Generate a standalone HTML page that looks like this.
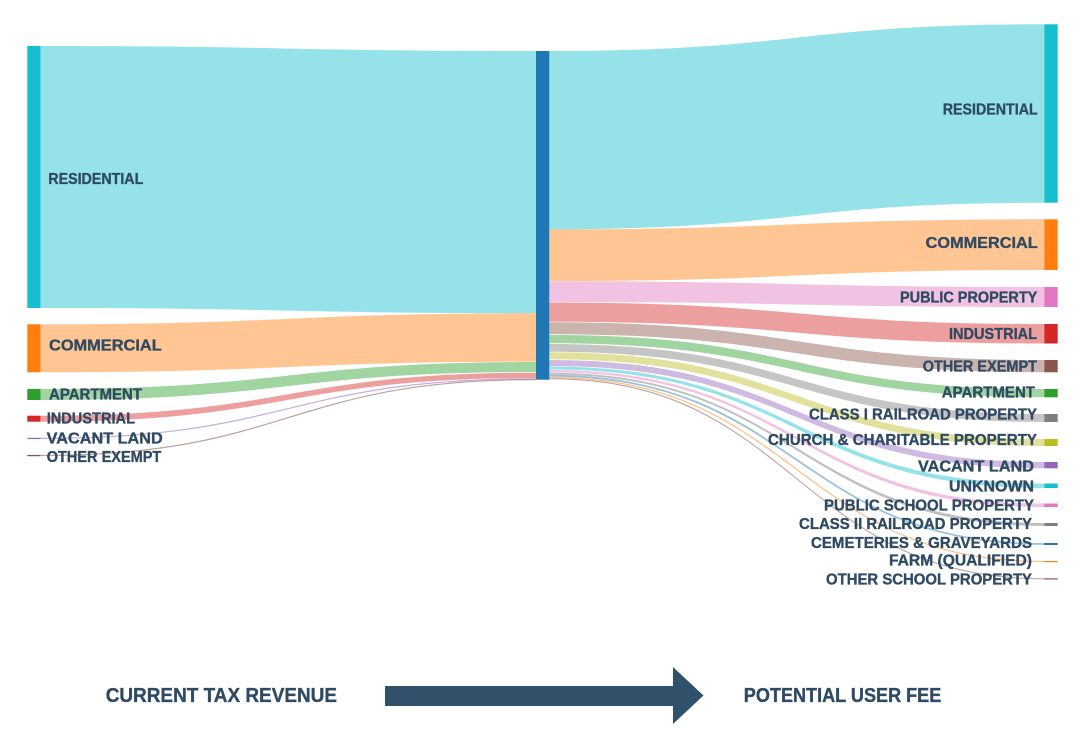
<!DOCTYPE html>
<html>
<head>
<meta charset="utf-8">
<style>
  html,body{margin:0;padding:0;background:#fff;}
  svg{display:block;}
  text{font-family:"Liberation Sans",Arial,sans-serif;font-weight:bold;fill:#2f4a63;stroke:#2f4a63;stroke-width:0.35px;}
</style>
</head>
<body>
<svg width="1091" height="742" viewBox="0 0 1091 742" xmlns="http://www.w3.org/2000/svg">
  <rect width="1091" height="742" fill="#fff"/>

  <!-- LEFT LINKS (x 41 -> 536) -->
  <g>
    <path d="M41 46 C288.5 46 288.5 51 536 51 L536 313.3 C288.5 313.3 288.5 308 41 308 Z" fill="#17becf" fill-opacity="0.45"/>
    <path d="M41 324.3 C288.5 324.3 288.5 313.3 536 313.3 L536 361.7 C288.5 361.7 288.5 372.3 41 372.3 Z" fill="#ff7f0e" fill-opacity="0.45"/>
    <path d="M41 389 C288.5 389 288.5 362 536 362 L536 372 C288.5 372 288.5 400 41 400 Z" fill="#2ca02c" fill-opacity="0.45"/>
    <path d="M41 415.7 C288.5 415.7 288.5 372.7 536 372.7 L536 378 C288.5 378 288.5 421.7 41 421.7 Z" fill="#d62728" fill-opacity="0.45"/>
    <path d="M41 438.4 C288.5 438.4 288.5 378.7 536 378.7" fill="none" stroke="#9467bd" stroke-opacity="0.55" stroke-width="1.2"/>
    <path d="M41 455.5 C288.5 455.5 288.5 379.6 536 379.6" fill="none" stroke="#8c564b" stroke-opacity="0.55" stroke-width="1.2"/>
  </g>

  <!-- RIGHT LINKS (x 549.3 -> 1044.3) -->
  <g>
    <path d="M549.3 51 C796.8 51 796.8 24.3 1044.3 24.3 L1044.3 202.7 C796.8 202.7 796.8 229.3 549.3 229.3 Z" fill="#17becf" fill-opacity="0.45"/>
    <path d="M549.3 229.3 C796.8 229.3 796.8 219.3 1044.3 219.3 L1044.3 270 C796.8 270 796.8 281 549.3 281 Z" fill="#ff7f0e" fill-opacity="0.45"/>
    <path d="M549.3 281.3 C796.8 281.3 796.8 287 1044.3 287 L1044.3 307 C796.8 307 796.8 302 549.3 302 Z" fill="#e377c2" fill-opacity="0.45"/>
    <path d="M549.3 302.5 C796.8 302.5 796.8 324 1044.3 324 L1044.3 343.5 C796.8 343.5 796.8 321.7 549.3 321.7 Z" fill="#d62728" fill-opacity="0.45"/>
    <path d="M549.3 322.2 C796.8 322.2 796.8 360 1044.3 360 L1044.3 372.3 C796.8 372.3 796.8 334.2 549.3 334.2 Z" fill="#8c564b" fill-opacity="0.45"/>
    <path d="M549.3 335 C796.8 335 796.8 389 1044.3 389 L1044.3 397.3 C796.8 397.3 796.8 343.3 549.3 343.3 Z" fill="#2ca02c" fill-opacity="0.45"/>
    <path d="M549.3 344 C796.8 344 796.8 414 1044.3 414 L1044.3 422 C796.8 422 796.8 351.7 549.3 351.7 Z" fill="#7f7f7f" fill-opacity="0.45"/>
    <path d="M549.3 352.3 C796.8 352.3 796.8 439 1044.3 439 L1044.3 446 C796.8 446 796.8 359.3 549.3 359.3 Z" fill="#bcbd22" fill-opacity="0.45"/>
    <path d="M549.3 360 C796.8 360 796.8 462 1044.3 462 L1044.3 468.3 C796.8 468.3 796.8 366 549.3 366 Z" fill="#9467bd" fill-opacity="0.45"/>
    <path d="M549.3 366.5 C796.8 366.5 796.8 483.5 1044.3 483.5 L1044.3 488 C796.8 488 796.8 369.5 549.3 369.5 Z" fill="#17becf" fill-opacity="0.45"/>
    <path d="M549.3 370 C796.8 370 796.8 503.5 1044.3 503.5 L1044.3 507 C796.8 507 796.8 372.3 549.3 372.3 Z" fill="#e377c2" fill-opacity="0.45"/>
    <path d="M549.3 372.8 C796.8 372.8 796.8 523 1044.3 523 L1044.3 526 C796.8 526 796.8 374.6 549.3 374.6 Z" fill="#7f7f7f" fill-opacity="0.5"/>
    <path d="M549.3 375.7 C796.8 375.7 796.8 544 1044.3 544" fill="none" stroke="#1f77b4" stroke-opacity="0.45" stroke-width="1.8"/>
    <path d="M549.3 377.4 C796.8 377.4 796.8 561.5 1044.3 561.5" fill="none" stroke="#ff7f0e" stroke-opacity="0.55" stroke-width="1.1"/>
    <path d="M549.3 378.7 C796.8 378.7 796.8 578.8 1044.3 578.8" fill="none" stroke="#8c564b" stroke-opacity="0.55" stroke-width="1.1"/>
  </g>

  <!-- LEFT NODES -->
  <rect x="27.3" y="46" width="13.4" height="262" fill="#17becf"/>
  <rect x="27.3" y="324.3" width="13.4" height="48" fill="#ff7f0e"/>
  <rect x="27.3" y="389" width="13.4" height="11" fill="#2ca02c"/>
  <rect x="27.3" y="415.7" width="13.4" height="6" fill="#d62728"/>
  <rect x="27.3" y="437.8" width="13.4" height="1.3" fill="#9467bd"/>
  <rect x="27.3" y="454.9" width="13.4" height="1.3" fill="#8c564b"/>

  <!-- CENTER NODE -->
  <rect x="536" y="51" width="13.3" height="328.7" fill="#1f77b4"/>

  <!-- RIGHT NODES -->
  <rect x="1044.3" y="24.3" width="13.4" height="178.4" fill="#17becf"/>
  <rect x="1044.3" y="219.3" width="13.4" height="50.7" fill="#ff7f0e"/>
  <rect x="1044.3" y="287" width="13.4" height="20" fill="#e377c2"/>
  <rect x="1044.3" y="324" width="13.4" height="19.5" fill="#d62728"/>
  <rect x="1044.3" y="360" width="13.4" height="12.3" fill="#8c564b"/>
  <rect x="1044.3" y="389" width="13.4" height="8.3" fill="#2ca02c"/>
  <rect x="1044.3" y="414" width="13.4" height="8" fill="#7f7f7f"/>
  <rect x="1044.3" y="439" width="13.4" height="7" fill="#bcbd22"/>
  <rect x="1044.3" y="462" width="13.4" height="6.3" fill="#9467bd"/>
  <rect x="1044.3" y="483.5" width="13.4" height="4.5" fill="#17becf"/>
  <rect x="1044.3" y="503.5" width="13.4" height="3.5" fill="#e377c2"/>
  <rect x="1044.3" y="523" width="13.4" height="3" fill="#7f7f7f"/>
  <rect x="1044.3" y="543" width="13.4" height="2" fill="#1f77b4"/>
  <rect x="1044.3" y="561" width="13.4" height="1.2" fill="#ff7f0e"/>
  <rect x="1044.3" y="578.3" width="13.4" height="1.2" fill="#8c564b"/>

  <!-- LEFT LABELS -->
  <g font-size="16">
    <text x="48.3" y="183.8" textLength="95" lengthAdjust="spacingAndGlyphs">RESIDENTIAL</text>
    <text x="49" y="350.5" textLength="112.7" lengthAdjust="spacingAndGlyphs">COMMERCIAL</text>
    <text x="49" y="399.5" textLength="93" lengthAdjust="spacingAndGlyphs">APARTMENT</text>
    <text x="46.7" y="423.5" textLength="88.3" lengthAdjust="spacingAndGlyphs">INDUSTRIAL</text>
    <text x="46.7" y="443.5" textLength="116" lengthAdjust="spacingAndGlyphs">VACANT LAND</text>
    <text x="46.7" y="462.2" textLength="114.6" lengthAdjust="spacingAndGlyphs">OTHER EXEMPT</text>
  </g>

  <!-- RIGHT LABELS -->
  <g font-size="16">
    <text x="942.7" y="114.5" textLength="95" lengthAdjust="spacingAndGlyphs">RESIDENTIAL</text>
    <text x="925.7" y="248" textLength="112" lengthAdjust="spacingAndGlyphs">COMMERCIAL</text>
    <text x="900" y="302.5" textLength="137.3" lengthAdjust="spacingAndGlyphs">PUBLIC PROPERTY</text>
    <text x="949" y="339.2" textLength="88" lengthAdjust="spacingAndGlyphs">INDUSTRIAL</text>
    <text x="922.7" y="371.5" textLength="114.3" lengthAdjust="spacingAndGlyphs">OTHER EXEMPT</text>
    <text x="941.7" y="397.5" textLength="93.3" lengthAdjust="spacingAndGlyphs">APARTMENT</text>
    <text x="809" y="419.5" textLength="228" lengthAdjust="spacingAndGlyphs">CLASS I RAILROAD PROPERTY</text>
    <text x="768" y="445" textLength="269" lengthAdjust="spacingAndGlyphs">CHURCH &amp; CHARITABLE PROPERTY</text>
    <text x="918" y="471.5" textLength="116" lengthAdjust="spacingAndGlyphs">VACANT LAND</text>
    <text x="949" y="491.5" textLength="85" lengthAdjust="spacingAndGlyphs">UNKNOWN</text>
    <text x="824" y="510.5" textLength="210" lengthAdjust="spacingAndGlyphs">PUBLIC SCHOOL PROPERTY</text>
    <text x="799" y="529" textLength="233" lengthAdjust="spacingAndGlyphs">CLASS II RAILROAD PROPERTY</text>
    <text x="811" y="548" textLength="221" lengthAdjust="spacingAndGlyphs">CEMETERIES &amp; GRAVEYARDS</text>
    <text x="889" y="565.5" textLength="143" lengthAdjust="spacingAndGlyphs">FARM (QUALIFIED)</text>
    <text x="826" y="584.5" textLength="206" lengthAdjust="spacingAndGlyphs">OTHER SCHOOL PROPERTY</text>
  </g>

  <!-- BOTTOM -->
  <text x="105.7" y="702" font-size="20" textLength="231.3" lengthAdjust="spacingAndGlyphs">CURRENT TAX REVENUE</text>
  <polygon points="385,686 673,686 673,667 703.5,695.5 673,724 673,706 385,706" fill="#31506a"/>
  <text x="743.8" y="702" font-size="20" textLength="197.5" lengthAdjust="spacingAndGlyphs">POTENTIAL USER FEE</text>
</svg>
</body>
</html>
